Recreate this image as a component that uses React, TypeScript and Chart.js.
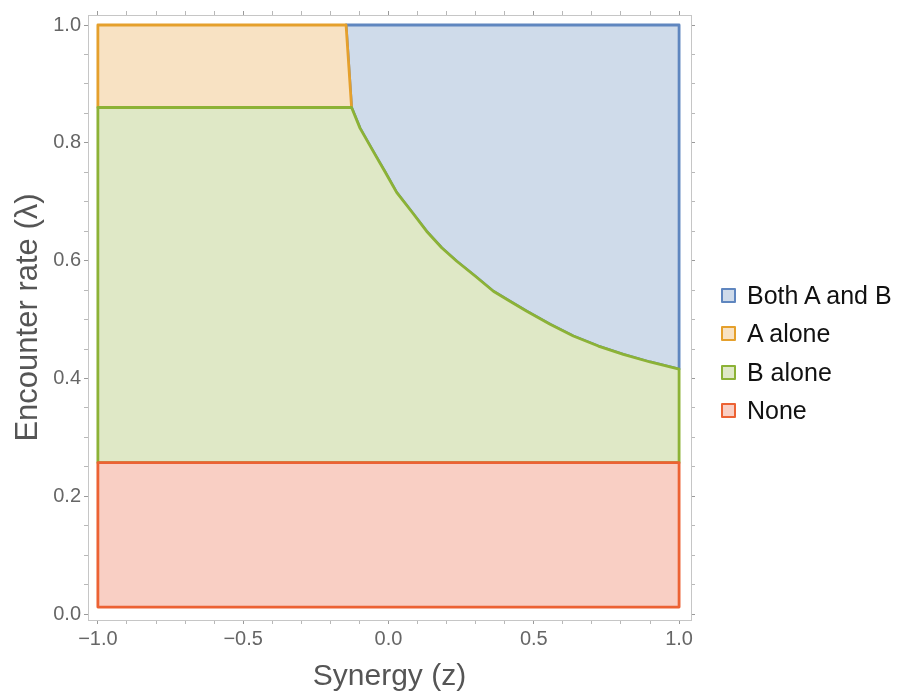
import { useEffect, useRef } from "react";
import { Chart, registerables } from "chart.js";

Chart.register(...registerables);

// ---- data ----
const regionNames = ["Both A and B", "A alone", "B alone", "None"];
const borderColors = ["#5f86bf", "#e5a02c", "#8cb236", "#ec6234"];
const fillColors = ["#cfdbea", "#f8e2c3", "#dfe8c6", "#f9cfc4"];

const zMin = -1;
const zMax = 1;
const lambdaTop = 1.0;
const lambdaNoneBottom = 0.012;
const lambdaNoneTop = 0.257;
const lambdaBTop = 0.86;
const aRightTopZ = -0.146;

// boundary between "B alone" and "Both A and B"
const curveZ = [
  -0.127, -0.098, -0.052, -0.012, 0.028, 0.08, 0.131, 0.183, 0.235, 0.298, 0.361, 0.418, 0.476, 0.556,
  0.636, 0.722, 0.808, 0.9, 1.0,
];
const curveLambda = [
  0.86, 0.825, 0.785, 0.751, 0.716, 0.683, 0.65, 0.622, 0.599, 0.574, 0.548, 0.531, 0.514, 0.492,
  0.472, 0.455, 0.441, 0.428, 0.416,
];

const xMajorTicks = [-1, -0.5, 0, 0.5, 1];
const xMinorTicks = [-0.9, -0.8, -0.7, -0.6, -0.4, -0.3, -0.2, -0.1, 0.1, 0.2, 0.3, 0.4, 0.6, 0.7, 0.8, 0.9];
const yMajorTicks = [0, 0.2, 0.4, 0.6, 0.8, 1.0];
const yMinorTicks = [0.05, 0.1, 0.15, 0.25, 0.3, 0.35, 0.45, 0.5, 0.55, 0.65, 0.7, 0.75, 0.85, 0.9, 0.95];

const xTitle = "Synergy (z)";
const yTitle = "Encounter rate (λ)";

const FONT = "'Liberation Sans', Arial, Helvetica, sans-serif";

const isIn = (arr: number[], v: number) => arr.some((a) => Math.abs(a - v) < 1e-9);
const fmt = (v: number) => v.toFixed(1).replace("-", "\u2212");

export default function App() {
  const canvasRef = useRef<HTMLCanvasElement>(null);

  useEffect(() => {
    const canvas = canvasRef.current;
    if (!canvas) return;

    const curvePts = curveZ.map((z, i) => ({ x: z, y: curveLambda[i] }));
    const revCurve = [...curvePts].reverse();

    const nonePoly = [
      { x: zMin, y: lambdaNoneBottom },
      { x: zMax, y: lambdaNoneBottom },
      { x: zMax, y: lambdaNoneTop },
      { x: zMin, y: lambdaNoneTop },
      { x: zMin, y: lambdaNoneBottom },
    ];
    const bPoly = [
      { x: zMin, y: lambdaNoneTop },
      { x: zMax, y: lambdaNoneTop },
      ...revCurve,
      { x: zMin, y: lambdaBTop },
      { x: zMin, y: lambdaNoneTop },
    ];
    const aPoly = [
      { x: zMin, y: lambdaBTop },
      curvePts[0],
      { x: aRightTopZ, y: lambdaTop },
      { x: zMin, y: lambdaTop },
      { x: zMin, y: lambdaBTop },
    ];
    const bothPoly = [
      { x: aRightTopZ, y: lambdaTop },
      { x: zMax, y: lambdaTop },
      ...revCurve,
      { x: aRightTopZ, y: lambdaTop },
    ];

    // drawn last-to-first: index 0 ends up on top
    const polys = [nonePoly, bPoly, aPoly, bothPoly];
    const idx = [3, 2, 1, 0];

    const allX = [...xMajorTicks, ...xMinorTicks].sort((a, b) => a - b);
    const allY = [...yMajorTicks, ...yMinorTicks].sort((a, b) => a - b);

    const frameColor = "#c6c6c6";
    const tickColorFn = (majors: number[]) => (ctx: any) =>
      ctx.tick && isIn(majors, ctx.tick.value) ? "#9a9a9a" : "#b8b8b8";

    const xScaleBase = (majors: number[]) => ({
      type: "linear" as const,
      min: -1.034,
      max: 1.041,
      afterBuildTicks: (s: any) => {
        s.ticks = allX.map((v) => ({ value: v }));
      },
      grid: { drawOnChartArea: false, drawTicks: true, tickLength: 4, tickColor: tickColorFn(majors) },
      border: { display: true, color: frameColor, width: 1 },
    });
    const yScaleBase = (majors: number[]) => ({
      type: "linear" as const,
      min: -0.01,
      max: 1.017,
      afterBuildTicks: (s: any) => {
        s.ticks = allY.map((v) => ({ value: v }));
      },
      grid: { drawOnChartArea: false, drawTicks: true, tickLength: 4, tickColor: tickColorFn(majors) },
      border: { display: true, color: frameColor, width: 1 },
    });

    const chart = new Chart(canvas, {
      type: "scatter",
      data: {
        datasets: polys.map((p, i) => ({
          label: regionNames[idx[i]],
          data: p,
          showLine: true,
          fill: "shape",
          borderColor: borderColors[idx[i]],
          backgroundColor: fillColors[idx[i]],
          borderWidth: 2.8,
          pointRadius: 0,
          pointHoverRadius: 0,
          tension: 0,
          borderJoinStyle: "round" as const,
          borderCapStyle: "round" as const,
        })),
      },
      options: {
        responsive: false,
        animation: false,
        events: [],
        layout: { padding: { left: 0, top: 8, right: 202, bottom: 0 } },
        plugins: {
          legend: { display: false },
          tooltip: { enabled: false },
        },
        scales: {
          x: {
            ...xScaleBase(xMajorTicks),
            position: "bottom",
            afterFit: (s: any) => {
              s.height = 77;
            },
            ticks: {
              autoSkip: false,
              maxRotation: 0,
              padding: 3,
              color: "#666",
              font: { family: FONT, size: 20 },
              callback: (v: any) => (isIn(xMajorTicks, Number(v)) ? fmt(Number(v)) : ""),
            },
            title: {
              display: true,
              text: xTitle,
              color: "#555",
              font: { family: FONT, size: 30 },
              padding: { top: 0, bottom: 2 },
            },
          },
          y: {
            ...yScaleBase(yMajorTicks),
            position: "left",
            afterFit: (s: any) => {
              s.width = 88;
            },
            ticks: {
              autoSkip: false,
              padding: 3,
              color: "#666",
              font: { family: FONT, size: 20 },
              callback: (v: any) => (isIn(yMajorTicks, Number(v)) ? fmt(Number(v)) : ""),
            },
            title: {
              display: true,
              text: yTitle,
              color: "#555",
              font: { family: FONT, size: 31 },
              padding: { top: 10, bottom: 0 },
            },
          },
          x2: {
            ...xScaleBase(xMajorTicks),
            position: "top",
            afterFit: (s: any) => {
              s.height = 5;
            },
            ticks: { display: false, autoSkip: false },
          },
          y2: {
            ...yScaleBase(yMajorTicks),
            position: "right",
            afterFit: (s: any) => {
              s.width = 5;
            },
            ticks: { display: false, autoSkip: false },
          },
        } as any,
      },
    });

    return () => {
      chart.destroy();
    };
  }, []);

  const legendCenters = [295, 333.5, 372, 410.5];

  return (
    <div style={{ position: "absolute", left: 0, top: 0, width: 898, height: 697, background: "#fff" }}>
      <canvas ref={canvasRef} width={898} height={697} style={{ width: 898, height: 697, display: "block" }} />
      {regionNames.map((name, i) => (
        <div
          key={name}
          style={{
            position: "absolute",
            left: 721,
            top: legendCenters[i] - 14,
            height: 28,
            display: "flex",
            alignItems: "center",
            fontFamily: FONT,
            fontSize: 25,
            color: "#111",
            whiteSpace: "nowrap",
          }}
        >
          <span
            style={{
              display: "inline-block",
              width: 11,
              height: 11,
              border: `2px solid ${borderColors[i]}`,
              background: fillColors[i],
              marginRight: 11,
              borderRadius: 1,
            }}
          />
          <span>{name}</span>
        </div>
      ))}
    </div>
  );
}
